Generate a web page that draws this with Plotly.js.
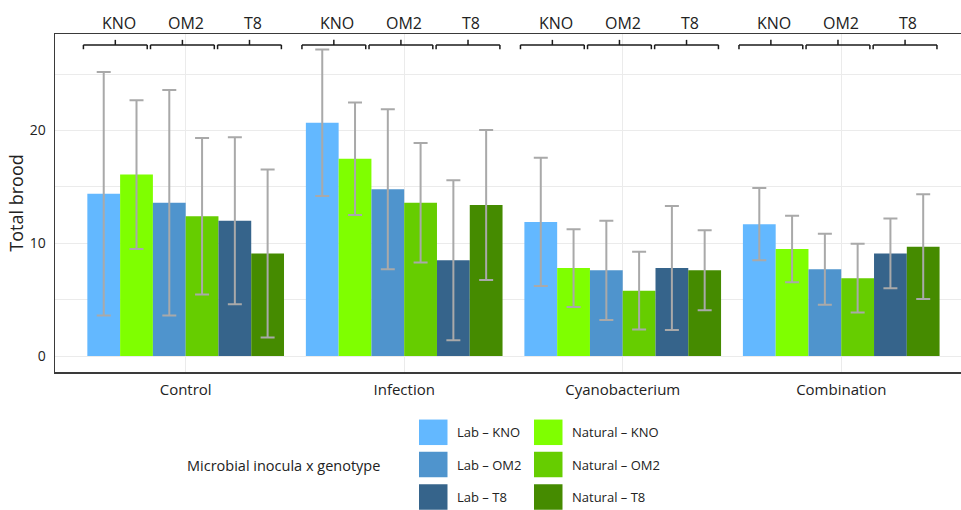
<!DOCTYPE html>
<html>
<head>
<meta charset="utf-8">
<script src="https://cdn.plot.ly/plotly-3.0.1.min.js"></script>
<style>
  html, body { margin: 0; padding: 0; background: #ffffff; }
  #chart { width: 961px; height: 510px; }
</style>
</head>
<body>
<div id="chart"></div>
<script>
// Treatments on the x axis, genotypes labelled over each pair of bars
const treatments = ['Control', 'Infection', 'Cyanobacterium', 'Combination'];
const genotypes = ['KNO', 'OM2', 'T8'];
const seriesNames = ['Lab – KNO', 'Natural – KNO', 'Lab – OM2', 'Natural – OM2', 'Lab – T8', 'Natural – T8'];

// Mean total brood per treatment
const labKNO = [14.4, 20.7, 11.9, 11.7];
const natKNO = [16.1, 17.5, 7.8, 9.5];
const labOM2 = [13.6, 14.8, 7.6, 7.7];
const natOM2 = [12.4, 13.6, 5.8, 6.9];
const labT8  = [12.0, 8.5, 7.8, 9.1];
const natT8  = [9.1, 13.4, 7.6, 9.7];

// Standard deviations (error bars)
const labKNOsd = [10.8, 6.5, 5.7, 3.2];
const natKNOsd = [6.6, 5.0, 3.45, 2.95];
const labOM2sd = [10.0, 7.1, 4.4, 3.15];
const natOM2sd = [6.95, 5.3, 3.45, 3.05];
const labT8sd  = [7.4, 7.1, 5.5, 3.1];
const natT8sd  = [7.45, 6.65, 3.55, 4.65];

const seriesMeans = [labKNO, natKNO, labOM2, natOM2, labT8, natT8];
const seriesSds = [labKNOsd, natKNOsd, labOM2sd, natOM2sd, labT8sd, natT8sd];
const seriesColors = ['#63B8FF', '#7FFF00', '#4F94CD', '#66CD00', '#36648B', '#458B00'];

const FONT = '"Open Sans", "Noto Sans", sans-serif';
const TEXT = '#222222';

const W = 961, H = 510;
const margin = { l: 55, r: 0, t: 34, b: 138 };
const plotW = W - margin.l - margin.r;
const plotH = H - margin.t - margin.b;
const pxX = px => (px - margin.l) / plotW;
const pxY = py => (H - margin.b - py) / plotH;

const traces = seriesNames.map((name, i) => ({
  type: 'bar',
  name: name,
  x: treatments,
  y: seriesMeans[i],
  marker: { color: seriesColors[i], line: { width: 0 } },
  error_y: {
    type: 'data',
    array: seriesSds[i],
    visible: true,
    color: '#A9A9A9',
    thickness: 2,
    width: 7
  },
  showlegend: false,
  hoverinfo: 'name+y'
}));

// Genotype brackets spanning each Lab/Natural pair
const shapes = [];
const annotations = [];
const bracketStep = 0.307, bracketHalf = 0.146, bracketShift = -0.015;
const yLine = 27.6, yEnd = 27.22, yTick = 28.05;
const bracketStyle = { color: '#1a1a1a', width: 1.5 };
treatments.forEach((t, g) => {
  genotypes.forEach((gt, k) => {
    const c = g + (k - 1) * bracketStep + bracketShift;
    const x0 = c - bracketHalf, x1 = c + bracketHalf;
    shapes.push({ type: 'line', xref: 'x', yref: 'y', x0: x0, x1: x1, y0: yLine, y1: yLine, line: bracketStyle });
    shapes.push({ type: 'line', xref: 'x', yref: 'y', x0: x0, x1: x0, y0: yEnd, y1: yLine, line: bracketStyle });
    shapes.push({ type: 'line', xref: 'x', yref: 'y', x0: x1, x1: x1, y0: yEnd, y1: yLine, line: bracketStyle });
    shapes.push({ type: 'line', xref: 'x', yref: 'y', x0: c, x1: c, y0: yLine, y1: yTick, line: bracketStyle });
    annotations.push({
      xref: 'x', yref: 'paper', x: c + 0.015, y: pxY(22.5),
      text: gt, showarrow: false, xanchor: 'center', yanchor: 'middle',
      font: { family: FONT, size: 16, color: TEXT }
    });
  });
});

// Legend: two columns (Lab, Natural), three rows (genotype)
annotations.push({
  xref: 'paper', yref: 'paper', x: pxX(185), y: pxY(465),
  text: 'Microbial inocula x genotype', showarrow: false,
  xanchor: 'left', yanchor: 'middle',
  font: { family: FONT, size: 14.5, color: TEXT }
});
const colBoxX = [419, 534], colTextX = [455, 570];
const rowY = [432.3, 464.5, 497];
const boxW = 28.5, boxH = 25.5;
seriesNames.forEach((name, i) => {
  const col = i % 2, row = Math.floor(i / 2);
  shapes.push({
    type: 'rect', xref: 'paper', yref: 'paper',
    x0: pxX(colBoxX[col]), x1: pxX(colBoxX[col] + boxW),
    y0: pxY(rowY[row] + boxH / 2), y1: pxY(rowY[row] - boxH / 2),
    fillcolor: seriesColors[i], line: { width: 0 }
  });
  annotations.push({
    xref: 'paper', yref: 'paper', x: pxX(colTextX[col]), y: pxY(rowY[row]),
    text: name, showarrow: false, xanchor: 'left', yanchor: 'middle',
    font: { family: FONT, size: 13, color: TEXT }
  });
});

const layout = {
  width: W, height: H,
  margin: margin,
  paper_bgcolor: '#ffffff',
  plot_bgcolor: '#ffffff',
  font: { family: FONT, size: 14, color: TEXT },
  barmode: 'group',
  bargap: 0.1,
  bargroupgap: 0,
  showlegend: false,
  xaxis: {
    type: 'category',
    range: [-0.598, 3.548],
    showline: true, linecolor: '#3a3a3a', linewidth: 1.5, mirror: true,
    showgrid: true, gridcolor: '#EBEBEB', gridwidth: 1,
    ticks: '', ticklabelstandoff: 3,
    tickfont: { family: FONT, size: 15, color: TEXT },
    zeroline: false
  },
  yaxis: {
    range: [-1.42, 28.57],
    tickmode: 'array', tickvals: [0, 10, 20], ticktext: ['0', '10', '20'],
    showline: true, linecolor: '#3a3a3a', linewidth: 1.5,
    showgrid: true, gridcolor: '#EBEBEB', gridwidth: 1,
    minor: { tickmode: 'array', tickvals: [5, 15, 25], showgrid: true, gridcolor: '#EBEBEB', gridwidth: 1, ticks: '' },
    ticks: '', ticklabelstandoff: 5,
    tickfont: { family: FONT, size: 14, color: TEXT },
    zeroline: false,
    title: { text: 'Total brood', font: { family: FONT, size: 18, color: TEXT }, standoff: 1 }
  },
  shapes: shapes,
  annotations: annotations
};

Plotly.newPlot('chart', traces, layout, { staticPlot: true, displayModeBar: false });
</script>
</body>
</html>
